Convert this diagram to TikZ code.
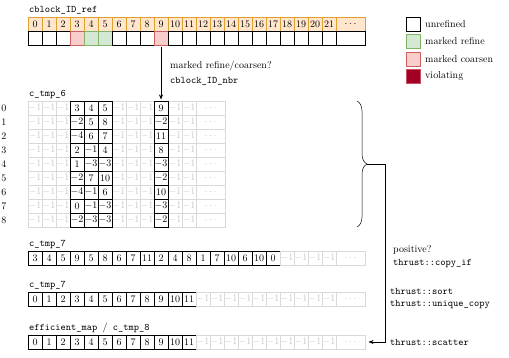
\documentclass[tikz,border=0pt]{standalone}
\usepackage{fontspec}
\usetikzlibrary{arrows.meta,decorations.pathreplacing}
\definecolor{orfill}{HTML}{FFE6CC}
\definecolor{ordraw}{HTML}{E0A030}
\definecolor{grfill}{HTML}{D5E8D4}
\definecolor{grdraw}{HTML}{82B366}
\definecolor{rdfill}{HTML}{F8CECC}
\definecolor{rddraw}{HTML}{D06060}
\definecolor{vifill}{HTML}{A20025}
\definecolor{vidraw}{HTML}{C85060}
\tikzset{
  cell/.style={draw=black, minimum width=14pt, minimum height=14pt, inner sep=0pt, outer sep=0pt, anchor=north west, line width=0.5pt},
  unref/.style={cell},
  idx/.style={cell, draw=ordraw, fill=orfill},
  refine/.style={cell, draw=grdraw, fill=grfill},
  coarsen/.style={cell, draw=rddraw, fill=rdfill},
  violate/.style={cell, draw=vidraw, fill=vifill},
  ghost/.style={cell, draw=gray!30, text=gray!45},
  wide/.style={minimum width=29pt},
  lbl/.style={anchor=base west, inner sep=0pt, font=\ttfamily},
  txt/.style={anchor=west, inner sep=0pt},
  arr/.style={-{Stealth[length=5pt,width=4pt]}, line width=0.5pt}
}
\begin{document}
\begin{tikzpicture}[x=1pt,y=-1pt]
\useasboundingbox (0,0) rectangle (509,358);

% top array
\node[lbl] (lref) at (29,12.5) {cblock\_ID\_ref};
\foreach \i/\s in {0/unref,1/unref,2/unref,3/coarsen,4/refine,5/refine,6/unref,7/unref,8/unref,9/coarsen,10/unref,11/unref,12/unref,13/unref,14/unref,15/unref,16/unref,17/unref,18/unref,19/unref,20/unref,21/unref}{
  \node[idx] (ix\i) at ({28+14*\i},17) {\i};
  \node[\s] (v\i) at ({28+14*\i},31) {};
}
\node[idx,wide] (ixd) at (336,17) {$\cdots$};
\node[unref,wide] (vd) at (336,31) {};

% legend
\node[unref] (lg1) at (406,17) {};
\node[refine] (lg2) at (406,34.5) {};
\node[coarsen] (lg3) at (406,52) {};
\node[violate] (lg4) at (406,69.5) {};
\node[txt] (lt1) at (425,24) {unrefined};
\node[txt] (lt2) at (425,41.5) {marked refine};
\node[txt] (lt3) at (425,59) {marked coarsen};
\node[txt] (lt4) at (425,76.5) {violating};

% grid c_tmp_6
\node[lbl] (l6) at (29,96.5) {c\_tmp\_6};
\foreach \r/\va/\vb/\vc/\vd in {0/3/4/5/9,1/-2/5/8/-2,2/-4/6/7/11,3/2/-1/4/8,4/1/-3/-3/-3,5/-2/7/10/-2,6/-4/-1/6/10,7/0/-1/-3/-3,8/-2/-3/-3/-2}{
  \node (rl\r) at (4,{108+14*\r}) {\r};
  \foreach \k in {0,1,2,6,7,8,10,11}
    \node[ghost] (g\r-\k) at ({28+14*\k},{101+14*\r}) {$-1$};
  \node[ghost,wide] (g\r-d) at (196,{101+14*\r}) {$\cdots$};
  \node[cell] (g\r-3) at (70,{101+14*\r}) {$\va$};
  \node[cell] (g\r-4) at (84,{101+14*\r}) {$\vb$};
  \node[cell] (g\r-5) at (98,{101+14*\r}) {$\vc$};
  \node[cell] (g\r-9) at (154,{101+14*\r}) {$\vd$};
}

\draw[arr] ([yshift=-2pt]v9.south) -- ([yshift=1.5pt]g0-9.north);
\node[txt] (q1) at (170,66) {marked refine/coarsen?};
\node[txt,font=\ttfamily] (q2) at (170,81) {cblock\_ID\_nbr};

% brace
\draw[line width=0.5pt, decorate, decoration={brace, amplitude=10pt}] (357,101) -- (357,227);
\coordinate (bt) at (367,164);
\coordinate (corner) at (385,164);

% row A
\node[lbl] (la) at (29,246.5) {c\_tmp\_7};
\foreach \v [count=\k from 0] in {3,4,5,9,5,8,6,7,11,2,4,8,1,7,10,6,10,0}
  \node[cell] (a\k) at ({28+14*\k},251) {\v};
\foreach \k in {18,...,21}
  \node[ghost] (a\k) at ({28+14*\k},251) {$-1$};
\node[ghost,wide] (ad) at (336,251) {$\cdots$};

% row B
\node[lbl] (lb) at (29,287.5) {c\_tmp\_7};
\foreach \k in {0,...,11}
  \node[cell] (b\k) at ({28+14*\k},292) {\k};
\foreach \k in {12,...,21}
  \node[ghost] (b\k) at ({28+14*\k},292) {$-1$};
\node[ghost,wide] (bd) at (336,292) {$\cdots$};

% row C
\node[lbl] (lc) at (29,330.5) {efficient\_map {\rmfamily/} c\_tmp\_8};
\foreach \k in {0,...,11}
  \node[cell] (c\k) at ({28+14*\k},335) {\k};
\foreach \k in {12,...,21}
  \node[ghost] (c\k) at ({28+14*\k},335) {$-1$};
\node[ghost,wide] (cd) at (336,335) {$\cdots$};

% connector
\draw[arr] (bt) -- (corner) |- ([xshift=3.5pt]cd.east);

% right labels
\node[txt] (p1) at (393,250) {positive?};
\node[txt,font=\ttfamily] (p2) at (393,264) {thrust::copy\_if};
\node[txt,font=\ttfamily] (p3) at (390,291) {thrust::sort};
\node[txt,font=\ttfamily] (p4) at (390,305) {thrust::unique\_copy};
\node[txt,font=\ttfamily] (p5) at (390,342) {thrust::scatter};
\end{tikzpicture}
\end{document}
